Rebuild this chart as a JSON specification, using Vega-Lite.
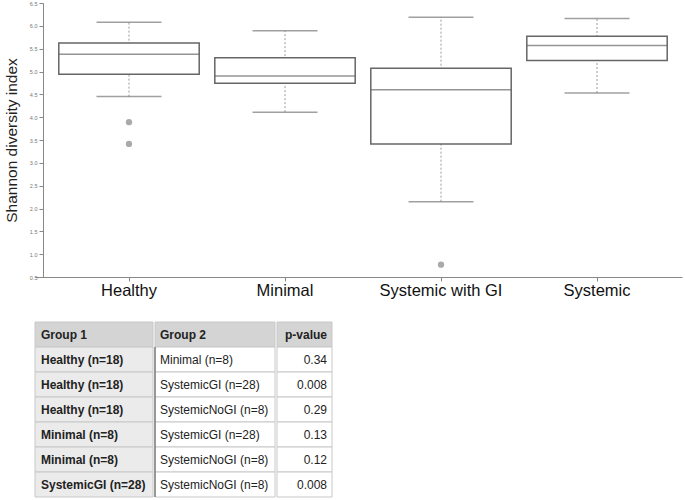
{
  "$schema": "https://vega.github.io/schema/vega-lite/v6.json",
  "padding": {"left": 4, "top": 1, "right": 2, "bottom": 0},
  "background": "white",
  "config": {"font": "Liberation Sans", "view": {"stroke": null}},
  "datasets": {
    "boxes": [
      {"group": "Healthy", "min": 4.45, "q1": 4.94, "median": 5.38, "q3": 5.625, "max": 6.08},
      {"group": "Minimal", "min": 4.11, "q1": 4.74, "median": 4.9, "q3": 5.3, "max": 5.89},
      {"group": "Systemic with GI", "min": 2.15, "q1": 3.41, "median": 4.6, "q3": 5.07, "max": 6.19},
      {"group": "Systemic", "min": 4.53, "q1": 5.24, "median": 5.57, "q3": 5.77, "max": 6.16}
    ],
    "outliers": [
      {"group": "Healthy", "value": 3.89},
      {"group": "Healthy", "value": 3.415},
      {"group": "Systemic with GI", "value": 0.77}
    ],
    "table": [
      {"row": 0, "col": "g1", "text": "Group 1"},
      {"row": 0, "col": "g2", "text": "Group 2"},
      {"row": 0, "col": "p", "text": "p-value"},
      {"row": 1, "col": "g1", "text": "Healthy (n=18)"},
      {"row": 1, "col": "g2", "text": "Minimal (n=8)"},
      {"row": 1, "col": "p", "text": "0.34"},
      {"row": 2, "col": "g1", "text": "Healthy (n=18)"},
      {"row": 2, "col": "g2", "text": "SystemicGI (n=28)"},
      {"row": 2, "col": "p", "text": "0.008"},
      {"row": 3, "col": "g1", "text": "Healthy (n=18)"},
      {"row": 3, "col": "g2", "text": "SystemicNoGI (n=8)"},
      {"row": 3, "col": "p", "text": "0.29"},
      {"row": 4, "col": "g1", "text": "Minimal (n=8)"},
      {"row": 4, "col": "g2", "text": "SystemicGI (n=28)"},
      {"row": 4, "col": "p", "text": "0.13"},
      {"row": 5, "col": "g1", "text": "Minimal (n=8)"},
      {"row": 5, "col": "g2", "text": "SystemicNoGI (n=8)"},
      {"row": 5, "col": "p", "text": "0.12"},
      {"row": 6, "col": "g1", "text": "SystemicGI (n=28)"},
      {"row": 6, "col": "g2", "text": "SystemicNoGI (n=8)"},
      {"row": 6, "col": "p", "text": "0.008"}
    ]
  },
  "vconcat": [
    {
      "width": 647,
      "height": 274,
      "encoding": {
        "x": {
          "field": "group", "type": "nominal",
          "scale": {"domain": ["Healthy", "Minimal", "Systemic with GI", "Systemic"], "paddingInner": 0, "paddingOuter": 0.0737, "align": 0.696},
          "axis": {"title": null, "labelAngle": 0, "labelFontSize": 16.5, "labelColor": "#111", "labelPadding": 1, "tickSize": 4, "tickColor": "#888", "domainColor": "#888"}
        }
      },
      "layer": [
        {
          "data": {"name": "boxes"},
          "mark": {"type": "rule", "color": "#999", "strokeDash": [2, 2], "strokeWidth": 1},
          "encoding": {
            "y": {"field": "min", "type": "quantitative",
              "scale": {"domain": [0.5, 6.5], "nice": false, "zero": false},
              "axis": {"title": "Shannon diversity index", "titleFontSize": 15.5, "titleFontWeight": "normal", "titleColor": "#222", "titlePadding": 10, "offset": -8,
                "tickCount": 12, "format": ".1f", "labelOverlap": false, "labelFlush": false,
                "labelFontSize": 5.5, "labelColor": "#777", "tickSize": 4, "tickColor": "#888", "domainColor": "#888", "grid": false, "labelPadding": 2}},
            "y2": {"field": "max"}
          }
        },
        {
          "data": {"name": "boxes"},
          "mark": {"type": "bar", "fill": "white", "stroke": "#666", "strokeWidth": 1.5, "width": {"band": 0.9}},
          "encoding": {"y": {"field": "q1", "type": "quantitative"}, "y2": {"field": "q3"}}
        },
        {
          "data": {"name": "boxes"},
          "mark": {"type": "tick", "color": "#666", "size": 141, "thickness": 1.5},
          "encoding": {"y": {"field": "median", "type": "quantitative"}}
        },
        {
          "data": {"name": "boxes"},
          "mark": {"type": "tick", "color": "#777", "size": 65, "thickness": 1.5},
          "encoding": {"y": {"field": "min", "type": "quantitative"}}
        },
        {
          "data": {"name": "boxes"},
          "mark": {"type": "tick", "color": "#777", "size": 65, "thickness": 1.5},
          "encoding": {"y": {"field": "max", "type": "quantitative"}}
        },
        {
          "data": {"name": "outliers"},
          "mark": {"type": "circle", "color": "#aaa", "opacity": 1, "size": 40},
          "encoding": {"y": {"field": "value", "type": "quantitative"}}
        }
      ]
    },
    {
      "data": {"name": "table"},
      "spacing": 0,
      "hconcat": [
        {
          "width": 118, "height": 175,
          "transform": [{"filter": "datum.col === 'g1'"}],
          "encoding": {
            "x": {"field": "col", "type": "nominal", "axis": null, "scale": {"paddingInner": 0, "paddingOuter": 0}},
            "y": {"field": "row", "type": "ordinal", "axis": null, "scale": {"paddingInner": 0, "paddingOuter": 0}}
          },
          "layer": [
            {"mark": {"type": "rect", "stroke": "#c8c8c8", "strokeWidth": 1},
             "encoding": {"fill": {"condition": {"test": "datum.row === 0", "value": "#d4d4d4"}, "value": "#ebebeb"}}},
            {"mark": {"type": "text", "align": "left", "dx": 6, "fontSize": 12, "fontWeight": "bold", "color": "#222"},
             "encoding": {"x": {"field": "col", "type": "nominal", "bandPosition": 0}, "text": {"field": "text"}}}
          ]
        },
        {
          "width": 120, "height": 175,
          "transform": [{"filter": "datum.col === 'g2'"}],
          "encoding": {
            "x": {"field": "col", "type": "nominal", "axis": null, "scale": {"paddingInner": 0, "paddingOuter": 0}},
            "y": {"field": "row", "type": "ordinal", "axis": null, "scale": {"paddingInner": 0, "paddingOuter": 0}}
          },
          "layer": [
            {"mark": {"type": "rect", "stroke": "#c8c8c8", "strokeWidth": 1},
             "encoding": {"fill": {"condition": {"test": "datum.row === 0", "value": "#d4d4d4"}, "value": "white"}}},
            {"transform": [{"filter": "datum.row > 0"}],
             "mark": {"type": "rule", "color": "#666", "strokeWidth": 1.2},
             "encoding": {"x": {"field": "col", "type": "nominal", "bandPosition": 0}, "y": {"field": "row", "type": "ordinal", "bandPosition": 0}, "y2": {"field": "row", "bandPosition": 1}}},
            {"transform": [{"filter": "datum.row === 0"}],
             "mark": {"type": "text", "align": "left", "dx": 5, "fontSize": 12, "fontWeight": "bold", "color": "#222"},
             "encoding": {"x": {"field": "col", "type": "nominal", "bandPosition": 0}, "text": {"field": "text"}}},
            {"transform": [{"filter": "datum.row > 0"}],
             "mark": {"type": "text", "align": "left", "dx": 5, "fontSize": 12, "color": "#222"},
             "encoding": {"x": {"field": "col", "type": "nominal", "bandPosition": 0}, "text": {"field": "text"}}}
          ]
        },
        {
          "width": 55, "height": 175,
          "transform": [{"filter": "datum.col === 'p'"}],
          "encoding": {
            "x": {"field": "col", "type": "nominal", "axis": null, "scale": {"paddingInner": 0, "paddingOuter": 0}},
            "y": {"field": "row", "type": "ordinal", "axis": null, "scale": {"paddingInner": 0, "paddingOuter": 0}}
          },
          "layer": [
            {"mark": {"type": "rect", "stroke": "#c8c8c8", "strokeWidth": 1},
             "encoding": {"fill": {"condition": {"test": "datum.row === 0", "value": "#d4d4d4"}, "value": "white"}}},
            {"transform": [{"filter": "datum.row === 0"}],
             "mark": {"type": "text", "align": "right", "dx": -5, "fontSize": 12, "fontWeight": "bold", "color": "#222"},
             "encoding": {"x": {"field": "col", "type": "nominal", "bandPosition": 1}, "text": {"field": "text"}}},
            {"transform": [{"filter": "datum.row > 0"}],
             "mark": {"type": "text", "align": "right", "dx": -5, "fontSize": 12, "color": "#222"},
             "encoding": {"x": {"field": "col", "type": "nominal", "bandPosition": 1}, "text": {"field": "text"}}}
          ]
        }
      ]
    }
  ],
  "spacing": 22
}
